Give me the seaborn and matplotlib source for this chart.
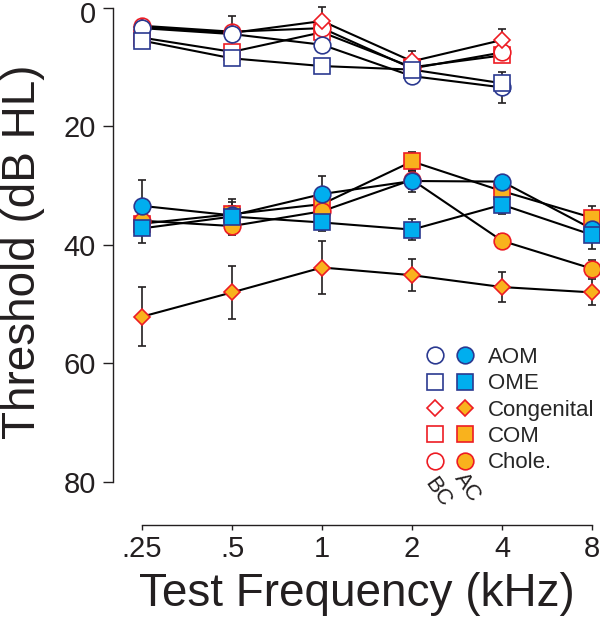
import pandas as pd
import matplotlib.pyplot as plt
import seaborn as sns
from matplotlib.lines import Line2D
from matplotlib.legend_handler import HandlerTuple
from matplotlib.ticker import NullLocator
from matplotlib.transforms import ScaledTranslation

# data (dB HL)
freqs_ac = [0.25, 0.5, 1, 2, 4, 8]
freqs_bc = [0.25, 0.5, 1, 2, 4]
freq_labels = [".25", ".5", "1", "2", "4", "8"]

aom_ac = [33.4, 35.0, 31.4, 29.2, 29.3, 37.3]
ome_ac = [37.2, 35.2, 36.2, 37.4, 33.2, 38.3]
cong_ac = [52.1, 48.0, 43.8, 45.1, 47.1, 48.0]
com_ac = [36.4, 34.8, 33.1, 25.9, 30.9, 35.4]
chole_ac = [35.9, 36.8, 34.3, 29.0, 39.3, 44.0]

aom_ac_err = [4.3, 1.5, 3.0, 1.9, 1.0, 1.5]
ome_ac_err = [2.5, 3.0, 1.5, 1.8, 1.5, 2.4]
cong_ac_err = [5.0, 4.5, 4.5, 2.7, 2.5, 2.2]
com_ac_err = [1.5, 2.0, 1.5, 1.6, 1.5, 1.9]
chole_ac_err = [1.5, 1.5, 1.5, 1.5, 1.2, 1.4]

aom_bc = [3.4, 4.4, 6.2, 11.5, 13.4]
ome_bc = [5.5, 8.5, 9.8, 10.4, 12.7]
cong_bc = [3.2, 4.2, 2.2, 9.0, 5.4]
com_bc = [5.0, 7.4, 4.1, 10.0, 8.0]
chole_bc = [3.0, 4.0, 3.4, 10.2, 7.5]

aom_bc_err = [1.0, 1.0, 1.0, 1.0, 2.6]
ome_bc_err = [1.0, 1.0, 1.0, 1.0, 1.0]
cong_bc_err = [1.0, 2.9, 2.4, 1.8, 1.9]
com_bc_err = [1.0, 1.0, 1.0, 1.0, 1.0]
chole_bc_err = [1.0, 1.0, 1.0, 1.0, 1.0]

NAVY = "#2B3990"
CYAN = "#00AEEF"
RED = "#ED1C24"
ORANGE = "#F9B21D"
INK = "#231F20"

# name: (marker, size, edge, fill)
styles = {
    "AOM": ("o", 12, NAVY, CYAN),
    "OME": ("s", 11.5, NAVY, CYAN),
    "Congenital": ("D", 8.3, RED, ORANGE),
    "COM": ("s", 11.5, RED, ORANGE),
    "Chole.": ("o", 12, RED, ORANGE),
}

series = {
    ("AC", "AOM"): (freqs_ac, aom_ac, aom_ac_err),
    ("AC", "OME"): (freqs_ac, ome_ac, ome_ac_err),
    ("AC", "Congenital"): (freqs_ac, cong_ac, cong_ac_err),
    ("AC", "COM"): (freqs_ac, com_ac, com_ac_err),
    ("AC", "Chole."): (freqs_ac, chole_ac, chole_ac_err),
    ("BC", "AOM"): (freqs_bc, aom_bc, aom_bc_err),
    ("BC", "OME"): (freqs_bc, ome_bc, ome_bc_err),
    ("BC", "Congenital"): (freqs_bc, cong_bc, cong_bc_err),
    ("BC", "COM"): (freqs_bc, com_bc, com_bc_err),
    ("BC", "Chole."): (freqs_bc, chole_bc, chole_bc_err),
}

rows = []
for (cond, name), (f, v, e) in series.items():
    for fi, vi, ei in zip(f, v, e):
        rows.append({"cond": cond, "group": name, "freq": fi, "thr": vi, "err": ei})
df = pd.DataFrame(rows)

sns.set_style("ticks")
plt.rcParams["font.family"] = ["Liberation Sans", "DejaVu Sans"]

fig = plt.figure(figsize=(6, 6.18), dpi=100)
ax = fig.add_axes([113 / 600, 93 / 618, 487 / 600, 517 / 618])
ax.set_xscale("log", base=2)

# lines first, then error bars, then markers on top
for (cond, name), sub in df.groupby(["cond", "group"]):
    sns.lineplot(data=sub, x="freq", y="thr", color="black", linewidth=1.5,
                 errorbar=None, legend=False, ax=ax, zorder=2)

for (cond, name), sub in df.groupby(["cond", "group"]):
    ax.errorbar(sub["freq"], sub["thr"], yerr=sub["err"], fmt="none",
                ecolor=INK, elinewidth=1.2, capsize=2.6, capthick=1.2,
                zorder=3, clip_on=False)

draw_order = ["COM", "Chole.", "Congenital", "AOM", "OME"]
for cond in ["AC", "BC"]:
    for name in draw_order:
        sub = df[(df["cond"] == cond) & (df["group"] == name)]
        m, ms, ec, fc = styles[name]
        ax.plot(sub["freq"], sub["thr"], ls="none", marker=m, ms=ms, mec=ec,
                mfc=fc if cond == "AC" else "white", mew=1.2, zorder=4,
                clip_on=False)

ax.set_xlim(0.2, 8.5)
ax.set_ylim(87.26, 0)
ax.set_xticks(freqs_ac)
ax.set_xticklabels(freq_labels)
ax.xaxis.set_minor_locator(NullLocator())
ax.set_yticks([0, 20, 40, 60, 80])

sns.despine(ax=ax)
ax.spines["left"].set_bounds(0, 80)
ax.spines["bottom"].set_bounds(0.25, 8)
for s in ["left", "bottom"]:
    ax.spines[s].set_color(INK)
    ax.spines[s].set_linewidth(1.0)
ax.tick_params(axis="y", length=7, width=1, pad=5.5, labelsize=21, colors=INK)
ax.tick_params(axis="x", length=3.5, width=1, pad=4, labelsize=21, colors=INK)

ax.set_ylabel("Threshold (dB HL)", fontsize=33, color=INK)
ax.yaxis.set_label_coords(-0.14, 0.528)
ax.set_xlabel("Test Frequency (kHz)", fontsize=33, color=INK)
ax.xaxis.set_label_coords(0.501, -0.091)

# the top "0" label sits a little below its tick in the original
fig.canvas.draw()
zero_lab = ax.get_yticklabels()[0]
zero_lab.set_transform(zero_lab.get_transform()
                       + ScaledTranslation(0, -4 / 100, fig.dpi_scale_trans))

handles = []
for name in ["AOM", "OME", "Congenital", "COM", "Chole."]:
    m, ms, ec, fc = styles[name]
    ms_leg = 8 if m == "D" else ms
    h_open = Line2D([], [], ls="none", marker=m, ms=ms_leg, mec=ec, mfc="white", mew=1.2)
    h_fill = Line2D([], [], ls="none", marker=m, ms=ms_leg, mec=ec, mfc=fc, mew=1.2)
    handles.append((h_open, h_fill))
ax.legend(handles, list(styles.keys()),
          handler_map={tuple: HandlerTuple(ndivide=None, pad=0.45)},
          loc="upper left", bbox_to_anchor=(425 / 600, 1 - 347 / 618),
          bbox_transform=fig.transFigure, frameon=False, fontsize=16,
          handlelength=2.25, handletextpad=0.585, labelspacing=0.24,
          borderpad=0, borderaxespad=0)

fig.text(437 / 600, 1 - 492 / 618, "BC", rotation=-55, ha="center", va="center",
         fontsize=16, color=INK)
fig.text(467 / 600, 1 - 487 / 618, "AC", rotation=-55, ha="center", va="center",
         fontsize=16, color=INK)

fig.savefig("out.png", dpi=100)
